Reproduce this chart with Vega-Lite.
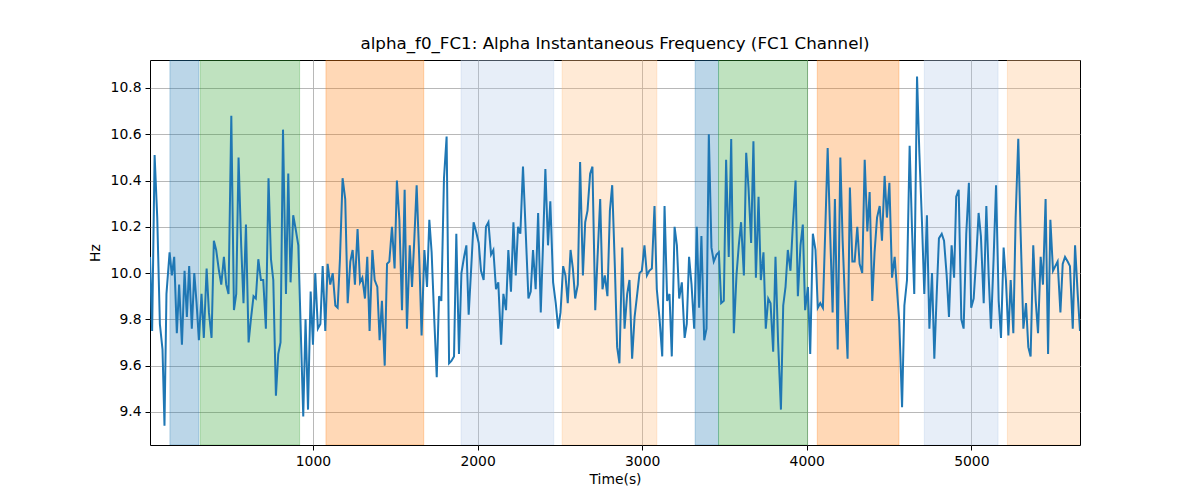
{
  "$schema": "https://vega.github.io/schema/vega-lite/v6.json",
  "width": 930,
  "height": 385,
  "autosize": {"type": "none"},
  "padding": {"left": 150, "top": 60, "right": 120, "bottom": 55},
  "background": "white",
  "title": {"text": "alpha_f0_FC1: Alpha Instantaneous Frequency (FC1 Channel)", "font": "DejaVu Sans", "fontSize": 16.7, "fontWeight": "normal", "color": "black", "offset": 7},
  "config": {
    "font": "DejaVu Sans",
    "view": {"stroke": "black", "strokeWidth": 1},
    "axis": {"labelFont": "DejaVu Sans", "titleFont": "DejaVu Sans", "labelFontSize": 13.9, "titleFontSize": 13.9, "titleFontWeight": "normal", "labelColor": "black", "titleColor": "black", "tickColor": "black", "tickSize": 5, "domain": false, "gridColor": "#b0b0b0", "gridWidth": 0.9, "gridOpacity": 1, "labelPadding": 4}
  },
  "datasets": {
    "bands": [
      {"start": 131, "end": 307, "kind": "a"},
      {"start": 315, "end": 919, "kind": "b"},
      {"start": 1079, "end": 1673, "kind": "c"},
      {"start": 1900, "end": 2463, "kind": "d"},
      {"start": 2514, "end": 3089, "kind": "e"},
      {"start": 3322, "end": 3464, "kind": "a"},
      {"start": 3464, "end": 4005, "kind": "b"},
      {"start": 4064, "end": 4560, "kind": "c"},
      {"start": 4714, "end": 5162, "kind": "d"},
      {"start": 5219, "end": 5700, "kind": "e"}
    ],
    "series": [
      {"t":10,"hz":10.07},{"t":23,"hz":9.75},{"t":38,"hz":10.51},{"t":54,"hz":10.24},{"t":70,"hz":9.78},{"t":86,"hz":9.67},{"t":98,"hz":9.34},{"t":110,"hz":9.91},{"t":129,"hz":10.09},{"t":143,"hz":9.99},{"t":157,"hz":10.07},{"t":173,"hz":9.74},{"t":187,"hz":9.95},{"t":204,"hz":9.69},{"t":220,"hz":10.01},{"t":234,"hz":9.81},{"t":248,"hz":10.03},{"t":264,"hz":9.76},{"t":279,"hz":10.0},{"t":293,"hz":9.87},{"t":307,"hz":9.71},{"t":323,"hz":9.91},{"t":337,"hz":9.72},{"t":354,"hz":10.02},{"t":368,"hz":9.83},{"t":384,"hz":9.72},{"t":398,"hz":10.14},{"t":412,"hz":10.1},{"t":429,"hz":10.01},{"t":443,"hz":9.95},{"t":459,"hz":10.07},{"t":473,"hz":9.95},{"t":487,"hz":9.91},{"t":504,"hz":10.68},{"t":520,"hz":9.84},{"t":534,"hz":9.91},{"t":548,"hz":10.5},{"t":564,"hz":10.12},{"t":578,"hz":9.87},{"t":593,"hz":10.21},{"t":609,"hz":9.7},{"t":623,"hz":9.8},{"t":639,"hz":9.9},{"t":653,"hz":9.89},{"t":668,"hz":10.06},{"t":684,"hz":9.97},{"t":698,"hz":9.97},{"t":714,"hz":9.76},{"t":730,"hz":10.41},{"t":745,"hz":10.06},{"t":759,"hz":9.97},{"t":775,"hz":9.47},{"t":789,"hz":9.65},{"t":803,"hz":9.7},{"t":818,"hz":10.62},
      {"t":836,"hz":9.91},{"t":850,"hz":10.43},{"t":864,"hz":9.96},{"t":880,"hz":10.25},{"t":895,"hz":10.19},{"t":911,"hz":10.12},{"t":926,"hz":9.75},{"t":941,"hz":9.38},{"t":955,"hz":9.8},{"t":970,"hz":9.41},{"t":986,"hz":9.92},{"t":1000,"hz":9.69},{"t":1014,"hz":10.0},{"t":1030,"hz":9.76},{"t":1045,"hz":9.78},{"t":1059,"hz":10.03},{"t":1075,"hz":9.75},{"t":1089,"hz":10.04},{"t":1105,"hz":9.95},{"t":1120,"hz":10.0},{"t":1136,"hz":9.86},{"t":1150,"hz":9.85},{"t":1164,"hz":10.06},{"t":1180,"hz":10.41},{"t":1196,"hz":10.32},{"t":1211,"hz":9.87},{"t":1227,"hz":10.05},{"t":1241,"hz":10.1},{"t":1255,"hz":9.95},{"t":1271,"hz":10.19},{"t":1286,"hz":9.96},{"t":1300,"hz":9.98},{"t":1316,"hz":9.89},{"t":1330,"hz":10.07},{"t":1344,"hz":9.75},{"t":1361,"hz":10.1},{"t":1375,"hz":9.97},{"t":1391,"hz":9.94},{"t":1405,"hz":9.71},{"t":1419,"hz":9.88},{"t":1436,"hz":9.6},{"t":1450,"hz":10.04},{"t":1464,"hz":10.05},{"t":1480,"hz":10.2},{"t":1496,"hz":10.02},{"t":1510,"hz":10.4},{"t":1525,"hz":10.23},{"t":1541,"hz":9.84},{"t":1557,"hz":10.36},{"t":1571,"hz":9.76},{"t":1588,"hz":10.12},{"t":1602,"hz":9.94},{"t":1616,"hz":10.15},{"t":1630,"hz":10.38},
      {"t":1646,"hz":10.06},{"t":1660,"hz":9.73},{"t":1677,"hz":10.1},{"t":1693,"hz":9.94},{"t":1707,"hz":10.23},{"t":1721,"hz":10.09},{"t":1737,"hz":9.8},{"t":1752,"hz":9.55},{"t":1766,"hz":9.9},{"t":1780,"hz":9.88},{"t":1796,"hz":10.41},{"t":1812,"hz":10.59},{"t":1827,"hz":9.61},{"t":1841,"hz":9.62},{"t":1857,"hz":9.64},{"t":1871,"hz":10.17},{"t":1887,"hz":9.65},{"t":1902,"hz":10.0},{"t":1918,"hz":10.07},{"t":1932,"hz":10.12},{"t":1946,"hz":9.82},{"t":1962,"hz":10.03},{"t":1976,"hz":10.22},{"t":1991,"hz":10.18},{"t":2007,"hz":10.13},{"t":2021,"hz":10.01},{"t":2037,"hz":9.97},{"t":2051,"hz":10.2},{"t":2066,"hz":10.22},{"t":2082,"hz":10.08},{"t":2096,"hz":10.1},{"t":2112,"hz":9.93},{"t":2126,"hz":9.96},{"t":2143,"hz":9.69},{"t":2157,"hz":9.91},{"t":2173,"hz":9.84},{"t":2187,"hz":10.1},{"t":2203,"hz":9.92},{"t":2218,"hz":10.22},{"t":2232,"hz":9.99},{"t":2246,"hz":10.2},{"t":2260,"hz":10.17},{"t":2276,"hz":10.46},{"t":2293,"hz":10.17},{"t":2309,"hz":9.89},{"t":2323,"hz":9.92},{"t":2337,"hz":10.1},{"t":2353,"hz":9.93},{"t":2368,"hz":10.26},{"t":2384,"hz":9.83},{"t":2398,"hz":10.13},{"t":2412,"hz":10.45},{"t":2428,"hz":10.12},{"t":2442,"hz":10.31},
      {"t":2459,"hz":9.96},{"t":2475,"hz":9.87},{"t":2490,"hz":9.76},{"t":2504,"hz":9.83},{"t":2520,"hz":10.03},{"t":2534,"hz":9.99},{"t":2548,"hz":9.87},{"t":2565,"hz":10.1},{"t":2579,"hz":10.02},{"t":2593,"hz":9.89},{"t":2609,"hz":9.95},{"t":2623,"hz":10.48},{"t":2640,"hz":9.99},{"t":2654,"hz":10.22},{"t":2668,"hz":10.27},{"t":2684,"hz":10.43},{"t":2698,"hz":10.46},{"t":2715,"hz":9.84},{"t":2729,"hz":10.07},{"t":2745,"hz":10.32},{"t":2759,"hz":9.93},{"t":2773,"hz":9.99},{"t":2789,"hz":9.9},{"t":2804,"hz":10.27},{"t":2818,"hz":10.38},{"t":2834,"hz":10.03},{"t":2848,"hz":9.68},{"t":2862,"hz":9.61},{"t":2879,"hz":10.11},{"t":2893,"hz":9.76},{"t":2909,"hz":9.91},{"t":2923,"hz":9.97},{"t":2939,"hz":9.63},{"t":2954,"hz":9.81},{"t":2970,"hz":9.91},{"t":2984,"hz":10.0},{"t":2998,"hz":10.01},{"t":3014,"hz":10.12},{"t":3029,"hz":9.99},{"t":3043,"hz":10.01},{"t":3059,"hz":10.02},{"t":3075,"hz":10.29},{"t":3089,"hz":9.93},{"t":3106,"hz":9.8},{"t":3122,"hz":9.64},{"t":3136,"hz":10.29},{"t":3152,"hz":9.88},{"t":3166,"hz":9.91},{"t":3180,"hz":9.64},{"t":3197,"hz":10.2},{"t":3211,"hz":10.12},{"t":3225,"hz":9.89},{"t":3241,"hz":9.96},{"t":3258,"hz":9.72},
      {"t":3271,"hz":9.78},{"t":3285,"hz":10.07},{"t":3300,"hz":9.95},{"t":3316,"hz":9.76},{"t":3332,"hz":10.2},{"t":3346,"hz":9.85},{"t":3360,"hz":10.16},{"t":3377,"hz":9.71},{"t":3391,"hz":9.76},{"t":3405,"hz":10.6},{"t":3421,"hz":10.11},{"t":3435,"hz":10.05},{"t":3452,"hz":10.08},{"t":3466,"hz":10.09},{"t":3480,"hz":9.87},{"t":3496,"hz":9.88},{"t":3510,"hz":10.49},{"t":3526,"hz":10.07},{"t":3541,"hz":10.58},{"t":3557,"hz":9.74},{"t":3573,"hz":9.99},{"t":3587,"hz":10.12},{"t":3601,"hz":10.22},{"t":3618,"hz":9.99},{"t":3632,"hz":10.52},{"t":3646,"hz":10.37},{"t":3662,"hz":10.13},{"t":3676,"hz":10.57},{"t":3691,"hz":9.98},{"t":3707,"hz":10.33},{"t":3721,"hz":9.97},{"t":3737,"hz":10.09},{"t":3751,"hz":9.76},{"t":3766,"hz":9.89},{"t":3780,"hz":9.87},{"t":3796,"hz":9.66},{"t":3810,"hz":10.07},{"t":3826,"hz":9.7},{"t":3843,"hz":9.41},{"t":3857,"hz":9.86},{"t":3871,"hz":9.94},{"t":3885,"hz":10.1},{"t":3901,"hz":10.01},{"t":3915,"hz":10.2},{"t":3932,"hz":10.4},{"t":3946,"hz":9.9},{"t":3962,"hz":10.12},{"t":3976,"hz":10.21},{"t":3990,"hz":9.84},{"t":4007,"hz":9.94},{"t":4021,"hz":9.65},{"t":4037,"hz":10.17},{"t":4053,"hz":10.1},{"t":4067,"hz":9.85},{"t":4082,"hz":9.87},
      {"t":4098,"hz":9.85},{"t":4113,"hz":10.2},{"t":4127,"hz":10.54},{"t":4141,"hz":10.2},{"t":4157,"hz":9.83},{"t":4171,"hz":10.32},{"t":4188,"hz":9.67},{"t":4204,"hz":10.5},{"t":4218,"hz":10.14},{"t":4232,"hz":9.88},{"t":4248,"hz":9.63},{"t":4262,"hz":10.37},{"t":4277,"hz":10.05},{"t":4291,"hz":10.05},{"t":4307,"hz":10.2},{"t":4321,"hz":10.04},{"t":4337,"hz":10.0},{"t":4352,"hz":10.49},{"t":4368,"hz":10.18},{"t":4382,"hz":10.35},{"t":4398,"hz":9.88},{"t":4412,"hz":10.09},{"t":4427,"hz":10.24},{"t":4443,"hz":10.29},{"t":4457,"hz":10.14},{"t":4473,"hz":10.42},{"t":4487,"hz":10.24},{"t":4502,"hz":10.39},{"t":4518,"hz":9.98},{"t":4534,"hz":10.07},{"t":4548,"hz":9.93},{"t":4562,"hz":9.79},{"t":4579,"hz":9.42},{"t":4593,"hz":9.86},{"t":4609,"hz":9.97},{"t":4625,"hz":10.55},{"t":4639,"hz":10.2},{"t":4653,"hz":9.91},{"t":4670,"hz":10.85},{"t":4684,"hz":10.52},{"t":4700,"hz":10.22},{"t":4714,"hz":9.91},{"t":4730,"hz":10.25},{"t":4745,"hz":9.76},{"t":4761,"hz":10.0},{"t":4775,"hz":9.63},{"t":4789,"hz":9.9},{"t":4803,"hz":10.15},{"t":4820,"hz":10.17},{"t":4834,"hz":10.14},{"t":4850,"hz":9.99},{"t":4864,"hz":9.81},{"t":4880,"hz":10.12},{"t":4895,"hz":9.98},
      {"t":4908,"hz":10.33},{"t":4923,"hz":10.36},{"t":4939,"hz":9.8},{"t":4953,"hz":9.76},{"t":4969,"hz":10.17},{"t":4985,"hz":10.39},{"t":4999,"hz":9.85},{"t":5014,"hz":9.89},{"t":5030,"hz":10.07},{"t":5044,"hz":10.26},{"t":5058,"hz":10.16},{"t":5075,"hz":9.87},{"t":5091,"hz":10.29},{"t":5105,"hz":9.99},{"t":5119,"hz":9.76},{"t":5135,"hz":10.06},{"t":5150,"hz":10.38},{"t":5166,"hz":9.88},{"t":5180,"hz":9.72},{"t":5196,"hz":10.11},{"t":5210,"hz":9.97},{"t":5225,"hz":9.73},{"t":5239,"hz":9.97},{"t":5255,"hz":9.74},{"t":5269,"hz":10.24},{"t":5285,"hz":10.58},{"t":5299,"hz":10.18},{"t":5316,"hz":9.76},{"t":5332,"hz":9.87},{"t":5346,"hz":9.68},{"t":5360,"hz":9.64},{"t":5376,"hz":10.12},{"t":5391,"hz":9.88},{"t":5405,"hz":9.74},{"t":5421,"hz":10.07},{"t":5435,"hz":9.95},{"t":5451,"hz":10.32},{"t":5466,"hz":9.65},{"t":5480,"hz":10.23},{"t":5496,"hz":10.01},{"t":5510,"hz":10.03},{"t":5524,"hz":10.05},{"t":5541,"hz":9.83},{"t":5555,"hz":10.04},{"t":5569,"hz":10.07},{"t":5585,"hz":10.05},{"t":5599,"hz":10.03},{"t":5616,"hz":9.76},{"t":5630,"hz":10.12},{"t":5646,"hz":9.91},{"t":5660,"hz":9.75}
    ]
  },
  "layer": [
    {
      "data": {"name": "bands"},
      "mark": {"type": "rect", "fillOpacity": 0.3, "strokeOpacity": 0.3, "strokeWidth": 1, "clip": true},
      "encoding": {
        "x": {"field": "start", "type": "quantitative", "title": "Time(s)", "scale": {"domain": [10, 5660], "nice": false, "zero": false}, "axis": {"values": [1000, 2000, 3000, 4000, 5000], "format": "d", "titlePadding": 5}},
        "x2": {"field": "end"},
        "color": {"field": "kind", "type": "nominal", "legend": null, "scale": {"domain": ["a", "b", "c", "d", "e"], "range": ["#1f77b4", "#2ca02c", "#ff7f0e", "#aec7e8", "#ffbb78"]}},
        "stroke": {"field": "kind", "type": "nominal", "legend": null, "scale": {"domain": ["a", "b", "c", "d", "e"], "range": ["#1f77b4", "#2ca02c", "#ff7f0e", "#aec7e8", "#ffbb78"]}}
      }
    },
    {
      "data": {"name": "series"},
      "mark": {"type": "line", "color": "#1f77b4", "strokeWidth": 2, "clip": true},
      "encoding": {
        "x": {"field": "t", "type": "quantitative", "title": "Time(s)"},
        "y": {"field": "hz", "type": "quantitative", "title": "Hz", "scale": {"domain": [9.257, 10.921], "nice": false, "zero": false}, "axis": {"values": [9.4, 9.6, 9.8, 10.0, 10.2, 10.4, 10.6, 10.8], "format": ".1f", "titlePadding": 8}}
      }
    }
  ]
}
